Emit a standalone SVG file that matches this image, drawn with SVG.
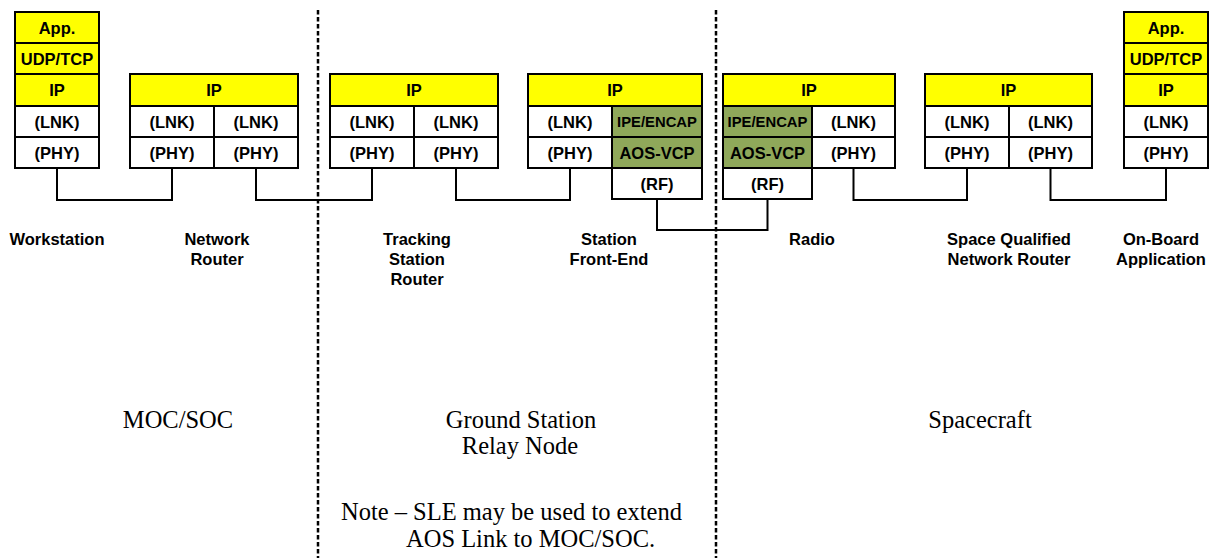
<svg xmlns="http://www.w3.org/2000/svg" width="1217" height="558" viewBox="0 0 1217 558">
<style>
.c{stroke:#000;stroke-width:2;}
.y{fill:#ffff00;}
.w{fill:#fff;}
.g{fill:#8fa85a;}
.t{font-family:"Liberation Sans",Arial,sans-serif;font-weight:bold;font-size:16.5px;text-anchor:middle;fill:#000;}
.s{font-size:14.8px;}
.n{font-family:"Liberation Sans",Arial,sans-serif;font-weight:bold;font-size:16.5px;text-anchor:middle;fill:#000;}
.r{font-family:"Liberation Serif","Times New Roman",serif;font-size:24.5px;fill:#000;}
.m{text-anchor:middle;}
.d{stroke:#000;stroke-width:2.5;stroke-dasharray:4.5,2.5;fill:none;}
.l{stroke:#000;stroke-width:2;fill:none;}
</style>
<rect width="1217" height="558" fill="#fff"/>
<g id="dividers">
<line class="d" x1="318" y1="10" x2="318" y2="558"/>
<line class="d" x1="716" y1="10" x2="716" y2="558"/>
</g>
<g id="connectors">
<polyline class="l" points="57,168 57,200 172,200 172,168"/>
<polyline class="l" points="256,168 256,200 372,200 372,168"/>
<polyline class="l" points="456,168 456,200 570,200 570,168"/>
<polyline class="l" points="657,199 657,230 767.5,230 767.5,199"/>
<polyline class="l" points="853.5,168 853.5,200 967,200 967,168"/>
<polyline class="l" points="1050.5,168 1050.5,200 1166,200 1166,168"/>
</g>
<g id="workstation">
<rect class="c y" x="15" y="12" width="84" height="31"/>
<rect class="c y" x="15" y="43" width="84" height="31"/>
<rect class="c y" x="15" y="74" width="84" height="32"/>
<rect class="c w" x="15" y="106" width="84" height="31"/>
<rect class="c w" x="15" y="137" width="84" height="31"/>
<text class="t" x="57" y="33.5">App.</text>
<text class="t" x="57" y="64.5">UDP/TCP</text>
<text class="t" x="57" y="96">IP</text>
<text class="t" x="57" y="127.5">(LNK)</text>
<text class="t" x="57" y="158.5">(PHY)</text>
<text class="n" x="57" y="245">Workstation</text>
</g>
<g id="network-router">
<rect class="c y" x="130" y="74" width="168" height="32"/>
<rect class="c w" x="130" y="106" width="84" height="31"/>
<rect class="c w" x="214" y="106" width="84" height="31"/>
<rect class="c w" x="130" y="137" width="84" height="31"/>
<rect class="c w" x="214" y="137" width="84" height="31"/>
<text class="t" x="214" y="96">IP</text>
<text class="t" x="172" y="127.5">(LNK)</text>
<text class="t" x="256" y="127.5">(LNK)</text>
<text class="t" x="172" y="158.5">(PHY)</text>
<text class="t" x="256" y="158.5">(PHY)</text>
<text class="n" x="217" y="245">Network</text>
<text class="n" x="217" y="265">Router</text>
</g>
<g id="tracking-station-router">
<rect class="c y" x="330" y="74" width="168" height="32"/>
<rect class="c w" x="330" y="106" width="84" height="31"/>
<rect class="c w" x="414" y="106" width="84" height="31"/>
<rect class="c w" x="330" y="137" width="84" height="31"/>
<rect class="c w" x="414" y="137" width="84" height="31"/>
<text class="t" x="414" y="96">IP</text>
<text class="t" x="372" y="127.5">(LNK)</text>
<text class="t" x="456" y="127.5">(LNK)</text>
<text class="t" x="372" y="158.5">(PHY)</text>
<text class="t" x="456" y="158.5">(PHY)</text>
<text class="n" x="417" y="245">Tracking</text>
<text class="n" x="417" y="265">Station</text>
<text class="n" x="417" y="285">Router</text>
</g>
<g id="station-front-end">
<rect class="c y" x="528" y="74" width="174" height="32"/>
<rect class="c w" x="528" y="106" width="84" height="31"/>
<rect class="c g" x="612" y="106" width="90" height="31"/>
<rect class="c w" x="528" y="137" width="84" height="31"/>
<rect class="c g" x="612" y="137" width="90" height="31"/>
<rect class="c w" x="612" y="168" width="90" height="31"/>
<text class="t" x="615" y="96">IP</text>
<text class="t" x="570" y="127.5">(LNK)</text>
<text class="t s" x="657" y="127">IPE/ENCAP</text>
<text class="t" x="570" y="158.5">(PHY)</text>
<text class="t" x="657" y="158.5">AOS-VCP</text>
<text class="t" x="657" y="189.5">(RF)</text>
<text class="n" x="609" y="245">Station</text>
<text class="n" x="609" y="265">Front-End</text>
</g>
<g id="radio">
<rect class="c y" x="723" y="74" width="172" height="32"/>
<rect class="c g" x="723" y="106" width="89" height="31"/>
<rect class="c w" x="812" y="106" width="83" height="31"/>
<rect class="c g" x="723" y="137" width="89" height="31"/>
<rect class="c w" x="812" y="137" width="83" height="31"/>
<rect class="c w" x="723" y="168" width="89" height="31"/>
<text class="t" x="809" y="96">IP</text>
<text class="t s" x="767.5" y="127">IPE/ENCAP</text>
<text class="t" x="853.5" y="127.5">(LNK)</text>
<text class="t" x="767.5" y="158.5">AOS-VCP</text>
<text class="t" x="853.5" y="158.5">(PHY)</text>
<text class="t" x="767.5" y="189.5">(RF)</text>
<text class="n" x="812" y="245">Radio</text>
</g>
<g id="space-router">
<rect class="c y" x="925" y="74" width="167" height="32"/>
<rect class="c w" x="925" y="106" width="84" height="31"/>
<rect class="c w" x="1009" y="106" width="83" height="31"/>
<rect class="c w" x="925" y="137" width="84" height="31"/>
<rect class="c w" x="1009" y="137" width="83" height="31"/>
<text class="t" x="1008.5" y="96">IP</text>
<text class="t" x="967" y="127.5">(LNK)</text>
<text class="t" x="1050.5" y="127.5">(LNK)</text>
<text class="t" x="967" y="158.5">(PHY)</text>
<text class="t" x="1050.5" y="158.5">(PHY)</text>
<text class="n" x="1009" y="245">Space Qualified</text>
<text class="n" x="1009" y="265">Network Router</text>
</g>
<g id="on-board-application">
<rect class="c y" x="1124" y="12" width="84" height="31"/>
<rect class="c y" x="1124" y="43" width="84" height="31"/>
<rect class="c y" x="1124" y="74" width="84" height="32"/>
<rect class="c w" x="1124" y="106" width="84" height="31"/>
<rect class="c w" x="1124" y="137" width="84" height="31"/>
<text class="t" x="1166" y="33.5">App.</text>
<text class="t" x="1166" y="64.5">UDP/TCP</text>
<text class="t" x="1166" y="96">IP</text>
<text class="t" x="1166" y="127.5">(LNK)</text>
<text class="t" x="1166" y="158.5">(PHY)</text>
<text class="n" x="1161" y="245">On-Board</text>
<text class="n" x="1161" y="265">Application</text>
</g>
<g id="regions">
<text class="r m" x="178" y="428">MOC/SOC</text>
<text class="r m" x="521" y="428">Ground Station</text>
<text class="r m" x="520" y="454">Relay Node</text>
<text class="r m" x="980" y="428">Spacecraft</text>
<text class="r" x="341" y="520">Note – SLE may be used to extend</text>
<text class="r" x="406" y="547">AOS Link to MOC/SOC.</text>
</g>
</svg>
